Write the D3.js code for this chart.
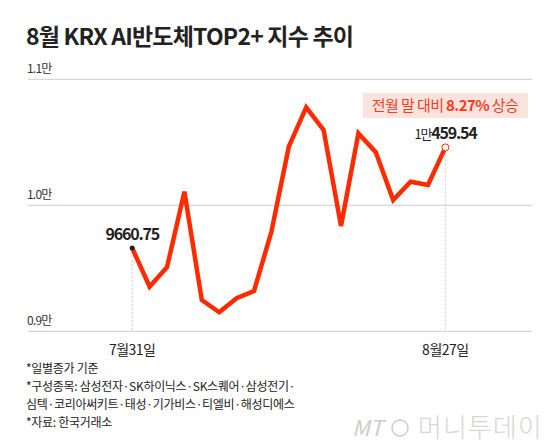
<!DOCTYPE html>
<html><head><meta charset="utf-8">
<script src="https://cdn.jsdelivr.net/npm/d3@7"></script>
<style>body{margin:0;background:#fff}text{font-family:"Noto Sans CJK KR","Noto Sans",sans-serif}</style>
</head><body><svg id="c" width="560" height="448"></svg>
<script>
const dates = ["7/31","8/1","8/2","8/5","8/6","8/7","8/8","8/9","8/12","8/13","8/14","8/16","8/19","8/20","8/21","8/22","8/23","8/26","8/27"];
const values = [9660.75,9354,9508,10108,9248,9151,9262,9320,9790,10465,10778,10598,9836,10571,10421,10042,10187,10161,10459.54];
const yTicks = [9000,10000,11000];
const yTickLabels = ["0.9만","1.0만","1.1만"];
const xTickIdx = [0,18];
const xTickLabels = ["7월31일","8월27일"];
const notes = ["*일별종가 기준","*구성종목: 삼성전자·SK하이닉스·SK스퀘어·삼성전기·","심텍·코리아써키트·태성·기가비스·티엘비·해성디에스","*자료: 한국거래소"];

const svg = d3.select("#c");
const x = d3.scaleLinear().domain([0,18]).range([132.2,445.4]);
const y = d3.scaleLinear().domain([9000,11000]).range([331.3,79.3]);

svg.append("text").attr("x",26).attr("y",45).attr("font-size",23).attr("font-weight",700).attr("fill","#222").attr("letter-spacing",-0.8).text("8월 KRX AI반도체TOP2+ 지수 추이");

yTicks.forEach((t,i)=>{
  svg.append("line").attr("x1",28).attr("x2",532).attr("y1",y(t)).attr("y2",y(t)).attr("stroke","#ccc");
  svg.append("text").attr("x",27).attr("y",y(t)-6).attr("font-size",12).attr("fill","#333").attr("letter-spacing",-0.8).text(yTickLabels[i]);
});
xTickIdx.forEach((d,i)=>{
  svg.append("line").attr("x1",x(d)).attr("x2",x(d)).attr("y1",y(values[d])).attr("y2",331).attr("stroke","#ccc").attr("stroke-dasharray","2,2");
  svg.append("text").attr("x",x(d)).attr("y",355).attr("text-anchor","middle").attr("font-size",14).attr("fill","#222").attr("letter-spacing",-0.5).text(xTickLabels[i]);
});

svg.append("path").datum(values).attr("fill","none").attr("stroke","#ff2a00").attr("stroke-width",4.5).attr("stroke-linejoin","miter")
  .attr("d",d3.line().x((d,i)=>x(i)).y(d=>y(d)));

svg.append("circle").attr("cx",x(0)).attr("cy",y(values[0])).attr("r",2.5).attr("fill","#222");
svg.append("circle").attr("cx",x(18)).attr("cy",y(values[18])).attr("r",3.5).attr("fill","#fff").attr("stroke","#ff2a00").attr("stroke-width",1);
svg.append("text").attr("x",x(0)).attr("y",y(values[0])-8).attr("text-anchor","middle").attr("font-size",16).attr("font-weight",700).attr("letter-spacing",-1.2).attr("fill","#222").text("9660.75");
const t2=svg.append("text").attr("x",x(18)).attr("y",y(values[18])-8).attr("text-anchor","middle").attr("font-weight",700).attr("letter-spacing",-1.2).attr("fill","#222");
t2.append("tspan").attr("font-size",13).attr("font-weight",400).text("1만");
t2.append("tspan").attr("font-size",16).text("459.54");

svg.append("rect").attr("x",363).attr("y",93).attr("width",165).attr("height",25).attr("fill","#fde3de");
const t3=svg.append("text").attr("x",445).attr("y",111).attr("text-anchor","middle").attr("font-size",15).attr("fill","#ff3a1a").attr("letter-spacing",-0.6);
t3.append("tspan").text("전월 말 대비 ");
t3.append("tspan").attr("font-weight",700).text("8.27%");
t3.append("tspan").text(" 상승");

notes.forEach((n,i)=>svg.append("text").attr("x",26).attr("y",373+i*18).attr("font-size",12).attr("fill","#222").attr("letter-spacing",-0.3).text(n));
svg.append("text").attr("x",352).attr("y",436).attr("font-size",22).attr("fill","#ccc").attr("font-style","italic").text("MT");
svg.append("circle").attr("cx",400).attr("cy",428).attr("r",8).attr("fill","none").attr("stroke","#ccc").attr("stroke-width",1.5);
svg.append("text").attr("x",418).attr("y",437).attr("font-size",26).attr("font-weight",300).attr("fill","#d6d6d6").attr("letter-spacing",1).text("머니투데이");
</script></body></html>
